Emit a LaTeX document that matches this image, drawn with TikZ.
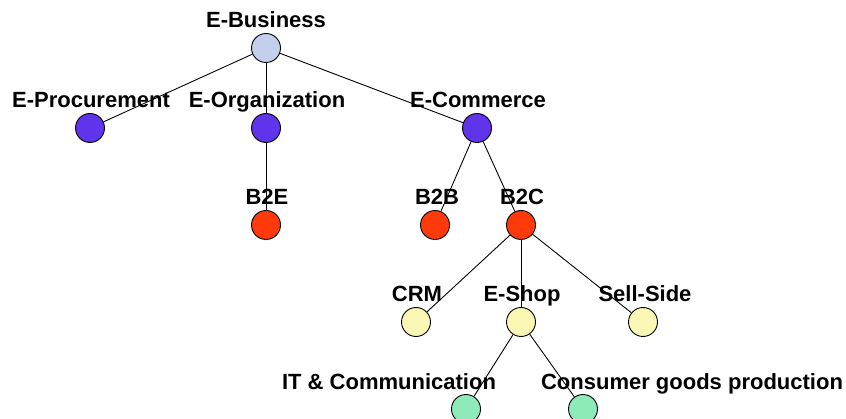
\documentclass[tikz,border=0pt]{standalone}
\usepackage{fontspec}
\setmainfont{Liberation Sans}

\definecolor{rootblue}{RGB}{195,207,236}
\definecolor{areaviolet}{RGB}{96,52,234}
\definecolor{typered}{RGB}{255,58,10}
\definecolor{partyellow}{RGB}{250,246,180}
\definecolor{branchgreen}{RGB}{142,234,184}

\begin{document}
\begin{tikzpicture}[x=1pt, y=-1pt, font=\fontsize{22}{26}\selectfont\bfseries,
    dot/.style={circle, draw=black, line width=0.9pt, minimum size=29pt, inner sep=0pt},
    tag/.style={anchor=base, inner sep=0pt},
    link/.style={line width=0.9pt}]
    \useasboundingbox (0,0) rectangle (846,419);

    % Circles of the tree
    \node[dot, fill=rootblue] (ebus) at (266, 48) {};
    \node[dot, fill=areaviolet] (eproc) at (90, 128) {};
    \node[dot, fill=areaviolet] (eorg) at (266, 128) {};
    \node[dot, fill=areaviolet] (ecom) at (477, 128) {};
    \node[dot, fill=typered] (btoe) at (266, 225) {};
    \node[dot, fill=typered] (btob) at (435, 225) {};
    \node[dot, fill=typered] (btoc) at (521, 225) {};
    \node[dot, fill=partyellow] (crm) at (416, 322) {};
    \node[dot, fill=partyellow] (eshop) at (521, 322) {};
    \node[dot, fill=partyellow] (sell) at (643, 322) {};
    \node[dot, fill=branchgreen] (itcom) at (466, 409) {};
    \node[dot, fill=branchgreen] (goods) at (583, 409) {};

    % Labels, 20 above the circle centres
    \node[tag] (tebus) at (266, 28) {E-Business};
    \node[tag] (teproc) at (91, 108) {E-Procurement};
    \node[tag] (teorg) at (267, 108) {E-Organization};
    \node[tag] (tecom) at (478, 108) {E-Commerce};
    \node[tag] (tbtoe) at (267, 205) {B2E};
    \node[tag] (tbtob) at (437, 205) {B2B};
    \node[tag] (tbtoc) at (522, 205) {B2C};
    \node[tag] (tcrm) at (417, 302) {CRM};
    \node[tag] (teshop) at (522, 302) {E-Shop};
    \node[tag] (tsell) at (645, 302) {Sell-Side};
    \node[tag] (titcom) at (389, 389) {IT \& Communication};
    \node[tag] (tgoods) at (692, 389) {Consumer goods production};

    % Connectors
    \foreach \kid in {eproc, eorg, ecom}
        \draw[link] (ebus) -- (\kid);
    \draw[link] (eorg) -- (btoe);
    \foreach \kid in {btob, btoc}
        \draw[link] (ecom) -- (\kid);
    \foreach \kid in {crm, eshop, sell}
        \draw[link] (btoc) -- (\kid);
    \foreach \kid in {itcom, goods}
        \draw[link] (eshop) -- (\kid);

\end{tikzpicture}
\end{document}
